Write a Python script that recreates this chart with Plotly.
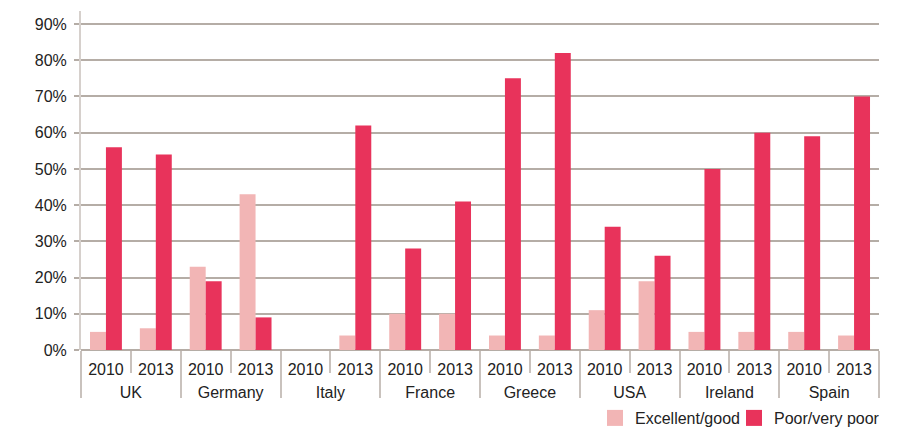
import plotly.graph_objects as go

countries = ["UK", "Germany", "Italy", "France", "Greece", "USA", "Ireland", "Spain"]
years = ["2010", "2013"]
excellent_good = [5, 6, 23, 43, 0, 4, 10, 10, 4, 4, 11, 19, 5, 5, 5, 4]
poor_very_poor = [56, 54, 19, 9, 0, 62, 28, 41, 75, 82, 34, 26, 50, 60, 59, 70]
y_ticks = [0, 10, 20, 30, 40, 50, 60, 70, 80, 90]
series_names = ["Excellent/good", "Poor/very poor"]
series_colors = ["#F2B5B5", "#E8335B"]

cats = [f"{c} {y}" for c in countries for y in years]
cat_years = [y for _ in countries for y in years]
n_cat = len(cats)
n_years = len(years)
country_centers = [i * n_years + (n_years - 1) / 2 for i in range(len(countries))]

FONT = "Liberation Sans, Arial, sans-serif"
GRID = "#B5ADA6"
DIV = "#C9C2BD"

W, H = 902, 429
L, R = 81, 23
TOP, BOTTOM_AXIS, B_MARGIN = 11, 350, 10
plot_w = W - L - R
paper_h = H - TOP - B_MARGIN
y_dom0 = (H - B_MARGIN - BOTTOM_AXIS) / paper_h
Y_MAX = 93.6

fig = go.Figure()
for name, vals, col in zip(series_names, [excellent_good, poor_very_poor], series_colors):
    fig.add_trace(go.Bar(x=cats, y=vals, name=name, showlegend=False,
                         marker=dict(color=col, line=dict(width=0))))
# legend swatches, one legend each so they can be placed independently
for name, col, lg in zip(series_names, series_colors, ["legend", "legend2"]):
    fig.add_trace(go.Scatter(x=[None], y=[None], mode="markers", name=name, legend=lg,
                             marker=dict(symbol="square", size=18, color=col,
                                         line=dict(width=0))))
# invisible carrier so the country-label axis is drawn
fig.add_trace(go.Scatter(x=[None], y=[None], xaxis="x2", yaxis="y", mode="markers",
                         showlegend=False, hoverinfo="skip"))

legend_common = dict(orientation="h", xanchor="right",
                     yref="container", y=1 - 418 / H, yanchor="middle",
                     font=dict(size=16, color="#222222"),
                     itemsizing="trace", itemwidth=30,
                     bgcolor="rgba(0,0,0,0)")

fig.update_layout(
    width=W, height=H,
    margin=dict(l=L, r=R, t=TOP, b=B_MARGIN, autoexpand=False),
    paper_bgcolor="white", plot_bgcolor="white",
    barmode="group", bargap=0.36, bargroupgap=0,
    font=dict(family=FONT, size=16, color="#222222"),
    showlegend=True,
    legend=dict(x=(745 - L) / plot_w, **legend_common),
    legend2=dict(x=(885 - L) / plot_w, **legend_common),
    xaxis=dict(
        type="category", automargin=False,
        categoryorder="array", categoryarray=cats,
        tickvals=cats, ticktext=cat_years,
        showgrid=False, showline=False, zeroline=False,
        ticks="outside", tickson="boundaries", ticklen=22,
        tickcolor=DIV, tickwidth=1.5,
        ticklabelstandoff=8,
        tickfont=dict(size=16, color="#222222"),
    ),
    xaxis2=dict(
        overlaying="x", anchor="free", position=y_dom0, side="bottom",
        automargin=False, range=[-0.5, n_cat - 0.5],
        tickvals=country_centers, ticktext=countries, ticks="",
        showgrid=False, showline=False, zeroline=False,
        ticklabelstandoff=31,
        tickfont=dict(size=16, color="#222222"),
        minor=dict(ticks="outside", tick0=-0.5, dtick=n_years, ticklen=47,
                   tickcolor=DIV, tickwidth=1.5, showgrid=False),
    ),
    yaxis=dict(
        automargin=False, domain=[y_dom0, 1],
        range=[0, Y_MAX], tickvals=y_ticks,
        ticktext=[f"{v}%" for v in y_ticks],
        showgrid=True, gridcolor=GRID, gridwidth=1.5,
        zeroline=True, zerolinecolor=GRID, zerolinewidth=1.5,
        showline=True, linecolor="#D6D0CC", linewidth=2,
        ticks="outside", ticklen=5, tickcolor=GRID, tickwidth=1.5,
        ticklabelstandoff=4,
        tickfont=dict(size=16, color="#222222"),
    ),
)

fig.write_html("out.html")
